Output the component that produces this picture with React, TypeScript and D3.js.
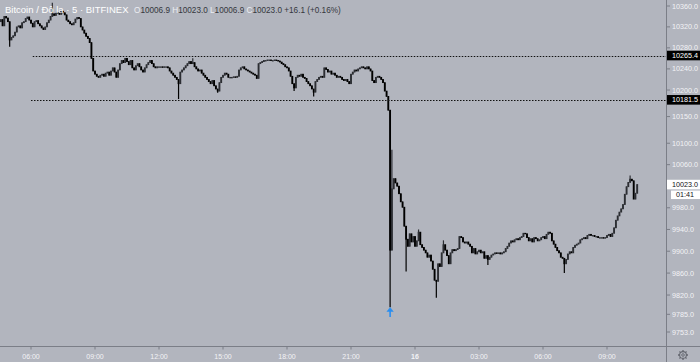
import * as d3 from 'd3'

const W = 700
const H = 362

const symbolTitle = 'Bitcoin / Đô la · 5 · BITFINEX'
const ohlcLabels = ['O', 'H', 'L', 'C']
const ohlcValues = ['10006.9', '10023.0', '10006.9', '10023.0']
const changeText = '+16.1 (+0.16%)'

// 5-minute candles from 04:35 on the 15th; open = previous close
const firstOpen = 10330
const closes = [
  10334, 10322, 10340, 10337, 10330, 10295, 10300, 10303, 10310, 10320,
  10322, 10318, 10328, 10330, 10336, 10339, 10333, 10327, 10320, 10330,
  10332, 10326, 10322, 10318, 10315, 10320, 10328, 10333, 10340, 10345,
  10342, 10346, 10348, 10344, 10350, 10347, 10343, 10333, 10330, 10326,
  10324, 10328, 10335, 10338, 10336, 10320, 10314, 10308, 10302, 10298,
  10290, 10260, 10236,
  10230, 10226, 10224, 10228, 10230, 10226, 10232, 10234, 10228, 10236,
  10242, 10234, 10224, 10238, 10250, 10256, 10252, 10260, 10254, 10248,
  10256, 10242, 10238, 10246, 10250, 10244, 10238, 10234, 10242, 10248,
  10252, 10256, 10250, 10244, 10242, 10244, 10244, 10244, 10243, 10244,
  10244, 10242, 10236, 10232, 10228, 10224, 10220, 10212, 10234,
  10238, 10242, 10246, 10250, 10254, 10250, 10252, 10244, 10240, 10236,
  10238, 10232, 10228, 10224, 10220, 10216, 10212, 10218, 10208, 10202,
  10198, 10214, 10224, 10228, 10232, 10230, 10224, 10224, 10224, 10225,
  10224, 10226, 10238, 10242, 10244, 10240, 10238, 10236, 10234, 10232,
  10230, 10228, 10222, 10250, 10252, 10254, 10256, 10256, 10257, 10257,
  10256, 10256, 10257, 10256, 10255, 10253, 10250, 10248, 10244, 10242,
  10236, 10226, 10212, 10204, 10224, 10228, 10226, 10230, 10224, 10222,
  10216, 10212, 10208, 10202, 10196, 10216, 10220, 10224, 10226, 10224,
  10242, 10239, 10234, 10236, 10230, 10232, 10228, 10224, 10226, 10224,
  10220, 10218, 10220, 10216, 10212, 10230, 10234, 10238, 10236, 10240,
  10242, 10244, 10242, 10240, 10244, 10240, 10236, 10218, 10214, 10224,
  10226, 10224, 10220, 10214, 10198, 10188, 10162,
  9902,
  10015, 10034, 10026, 10020, 10006, 9991, 9981, 9946, 9922, 9909,
  9932, 9917, 9927, 9909, 9919, 9935, 9912, 9907, 9902, 9897,
  9889, 9893, 9882, 9867, 9847, 9845, 9877, 9872, 9897, 9912,
  9902, 9892, 9877, 9897, 9903, 9901, 9903, 9905, 9927, 9925,
  9917, 9915, 9917, 9913, 9909, 9897, 9905, 9895, 9899, 9902,
  9897, 9899, 9887, 9892, 9885, 9889, 9893, 9895, 9897, 9896,
  9897, 9895, 9897, 9899, 9905, 9909, 9915, 9919, 9917, 9921,
  9923, 9921, 9925, 9927, 9933, 9932, 9925, 9919, 9923, 9917,
  9925, 9923, 9919, 9921, 9925, 9927, 9923, 9931, 9935, 9933,
  9919, 9913, 9907, 9901, 9897, 9889, 9887, 9877, 9885, 9895,
  9899, 9897, 9907, 9911, 9913, 9915, 9921, 9923, 9925, 9923,
  9929, 9931, 9929, 9929, 9927, 9927, 9925, 9925, 9925, 9924,
  9925, 9929, 9931, 9927, 9933, 9943, 9957, 9965, 9972, 9978,
  9986, 10005, 10019, 10027, 10033, 10030, 9996, 10006.9, 10023,
]
// [candle index, high, low] for the longer wicks (0 = none)
const wicks = [
  [5, 0, 10282], [29, 10366, 0], [100, 0, 10183], [108, 10260, 0],
  [122, 0, 10195], [165, 0, 10198], [176, 0, 10188], [219, 0, 9798],
  [220, 10088, 0], [228, 0, 9863], [235, 9940, 0], [245, 0, 9815],
  [249, 9920, 0], [274, 0, 9875], [317, 0, 9860], [354, 10040, 0],
]

const priceTicks = [10360, 10320, 10280, 10240, 10200, 10150, 10100, 10060, 9980, 9940, 9900, 9860, 9820, 9785, 9753]
const timeTickLabels = ['06:00', '09:00', '12:00', '15:00', '18:00', '21:00', '16', '03:00', '06:00', '09:00']
const levelPrices = [10265.4, 10181.5]
const levelStarts = [new Date(2019, 7, 15, 6, 5), new Date(2019, 7, 15, 6, 0)]
const lastPrice = 10023.0
const countdown = '01:41'
const lowIndex = 219

const start = new Date(2019, 7, 15, 4, 35)
const font = '"Liberation Sans", Arial, sans-serif'
const bg = '#b2b5be'
const axisColor = '#7b7e87'
const labelColor = '#f2f3f6'

export default function App() {
  const x = d3.scaleTime().domain([new Date(2019, 7, 15, 6), new Date(2019, 7, 16, 9)]).range([31, 607])
  const y = d3.scaleLog().domain([10360, 9753]).range([6, 332])
  const plotRight = 666.5
  const plotBottom = 346.5

  const candles = closes.map((c, i) => {
    const o = i === 0 ? firstOpen : closes[i - 1]
    const w = wicks.find(d => d[0] === i)
    const h = Math.max(o, c, w && w[1] ? w[1] : -Infinity)
    const l = Math.min(o, c, w && w[2] ? w[2] : Infinity)
    return { t: d3.timeMinute.offset(start, 5 * i), o, h, l, c }
  })

  const tTicks = x.ticks(d3.timeHour.every(3)!)
  const bw = 1.8

  const lowX = x(candles[lowIndex].t)

  return (
    <svg width={W} height={H} style={{ position: 'fixed', left: 0, top: 0, display: 'block' }} fontFamily={font}>
      <rect width={W} height={H} fill={bg} />

      <g>
        {candles.map((d, i) => {
          const cx = x(d.t)
          const up = d.c >= d.o
          const col = up ? '#2c2e33' : '#000'
          const y0 = y(Math.max(d.o, d.c))
          const y1 = y(Math.min(d.o, d.c))
          return (
            <g key={i}>
              <line x1={cx} x2={cx} y1={y(d.h)} y2={y(d.l)} stroke={col} strokeWidth={1.2} />
              <rect x={cx - bw / 2} y={y0 - 0.4} width={bw} height={Math.max(1.4, y1 - y0 + 0.8)} fill={col} />
            </g>
          )
        })}
      </g>

      {levelPrices.map((p, i) => (
        <line key={p} x1={x(levelStarts[i])} x2={plotRight} y1={Math.round(y(p)) + 0.5} y2={Math.round(y(p)) + 0.5}
          stroke="#111" strokeWidth={1} strokeDasharray="1.5,1.5" />
      ))}

      {/* marker under the low */}
      <g fill="#2a8ef0" stroke="#2a8ef0">
        <path d={`M${lowX},307.5 L${lowX - 3.2},311.5 L${lowX + 3.2},311.5 Z`} strokeWidth={0.5} />
        <line x1={lowX} x2={lowX} y1={310} y2={317} strokeWidth={1.6} />
      </g>

      {/* title */}
      <text x={5} y={13} fontSize={9.5} fill="#fff">{symbolTitle}</text>
      <text x={134} y={13} fontSize={8.2}>
        {ohlcLabels.map((l, i) => (
          <tspan key={l}>
            <tspan fill="#eceef3">{l}</tspan>
            <tspan fill="#35373d">{ohlcValues[i] + ' '}</tspan>
          </tspan>
        ))}
        <tspan fill="#35373d">{changeText}</tspan>
      </text>

      {/* axes */}
      <line x1={plotRight} x2={plotRight} y1={0} y2={H} stroke={axisColor} />
      <line x1={0} x2={W} y1={plotBottom} y2={plotBottom} stroke={axisColor} />

      {priceTicks.map(p => (
        <g key={p} transform={`translate(0,${y(p)})`}>
          <line x1={plotRight} x2={plotRight + 3.5} stroke={axisColor} />
          <text x={672} dy="0.35em" fontSize={7.2} fill={labelColor}>{p.toFixed(1)}</text>
        </g>
      ))}

      {tTicks.map((t, i) => (
        <g key={+t} transform={`translate(${x(t)},0)`}>
          <line y1={plotBottom} y2={plotBottom + 3} stroke={axisColor} />
          <text y={359} textAnchor="middle" fontSize={7} fill={labelColor} fontWeight={timeTickLabels[i] === '16' ? 'bold' : 'normal'}>
            {timeTickLabels[i]}
          </text>
        </g>
      ))}

      {/* price boxes */}
      {levelPrices.map(p => (
        <g key={p} transform={`translate(0,${y(p)})`}>
          <rect x={667} y={-4.8} width={33} height={9.6} fill="#000" />
          <text x={672} dy="0.35em" fontSize={7.2} fill="#fff">{p.toFixed(1)}</text>
        </g>
      ))}
      <g transform={`translate(0,${y(lastPrice)})`}>
        <rect x={667} y={-4.8} width={33} height={9.6} fill="#fff" />
        <text x={672} dy="0.35em" fontSize={7.2} fill="#111">{lastPrice.toFixed(1)}</text>
        <rect x={671} y={6} width={29} height={8.5} fill="#fff" />
        <text x={676} y={10.25} dy="0.35em" fontSize={7.2} fill="#111">{countdown}</text>
      </g>

      {/* settings gear */}
      <g transform="translate(683,355)" stroke="#62656e" fill="none">
        <circle r={3.4} strokeWidth={1.1} />
        {d3.range(8).map(k => {
          const a = (k * Math.PI) / 4
          return <line key={k} x1={Math.cos(a) * 3.4} y1={Math.sin(a) * 3.4} x2={Math.cos(a) * 5} y2={Math.sin(a) * 5} strokeWidth={1.3} />
        })}
        <circle r={1.3} strokeWidth={0.9} />
      </g>
    </svg>
  )
}
